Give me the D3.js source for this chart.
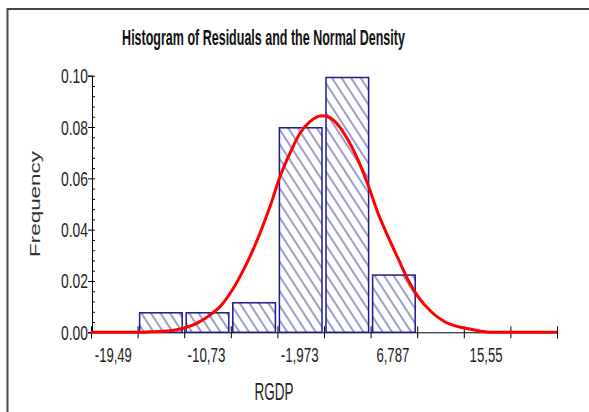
<!DOCTYPE html>
<html>
<head>
<meta charset="utf-8">
<script src="https://cdn.jsdelivr.net/npm/d3@7"></script>
<style>
  body { margin: 0; background: #fff; }
  svg { display: block; }
  text { font-family: "Liberation Sans", Arial, sans-serif; }
</style>
</head>
<body>
<svg id="chart" width="589" height="412"></svg>
<script>
// histogram bins (bin edges in RGDP residual units) and frequencies
var binStart = [-17.30, -12.92, -8.54, -4.16, 0.22, 4.60];
var binEnd   = [-12.92, -8.54, -4.16, 0.22, 4.60, 8.98];
var freq     = [0.0076, 0.0076, 0.0115, 0.0797, 0.0993, 0.0223];

// x axis: tick marks at bin edges, labels at every other bin centre
var xTicks  = [-21.68, -17.30, -12.92, -8.54, -4.16, 0.22, 4.60, 8.98, 13.36, 17.74, 22.12];
var xLabelValues = [-19.49, -10.73, -1.973, 6.787, 15.55];
var xLabels = ["-19,49", "-10,73", "-1,973", "6,787", "15,55"];
var xLabelWidths = [37, 38, 38, 33, 33];

// y axis ticks
var yTicks = [0, 0.02, 0.04, 0.06, 0.08, 0.10];
var yMinor = [0.004, 0.008, 0.012, 0.016, 0.024, 0.028, 0.032, 0.036, 0.044, 0.048, 0.052, 0.056,
              0.064, 0.068, 0.072, 0.076, 0.084, 0.088, 0.092, 0.096];

// normal density curve
var curveX = [-21.68, -16.8, -16.13, -14.25, -13.0, -11.75, -10.5, -9.55, -8.6, -7.68, -6.74, -5.8, -4.86,
              -3.92, -2.98, -2.04, -1.1, 0.0, 0.6, 1.54, 2.48, 3.42, 4.36, 5.3, 6.24, 7.18, 8.12,
              9.06, 10.3, 11.57, 12.81, 14.07, 15.32, 16.2, 22.12];
var curveY = [0, 0, 0.0002, 0.0006, 0.0016, 0.0035, 0.0067, 0.0100, 0.0152, 0.0217, 0.0295, 0.0386, 0.0489,
              0.0606, 0.0698, 0.0776, 0.0821, 0.0844, 0.0840, 0.0808, 0.0749, 0.0672, 0.0574, 0.0464, 0.0373, 0.0288, 0.0204,
              0.0139, 0.0080, 0.0041, 0.0022, 0.0012, 0.0002, 0, 0];

var svg = d3.select("#chart");

//squeeze a text horizontally so it fills the given width (the original is a stretched screenshot)
function fitText(t, px, py, w, rot) {
  var natural = t.node().getComputedTextLength();
  var sx = w / natural;
  t.attr("x", 0).attr("y", 0)
   .attr("transform", "translate(" + px + "," + py + ")" + (rot ? " rotate(" + rot + ")" : "") + " scale(" + sx + ",1)");
}

// frame (top and left edges of the original window)
svg.append("path")
    .attr("d", "M7.5,412V9H589")
    .attr("fill", "none")
    .attr("stroke", "#444")
    .attr("stroke-width", 2);

var x = d3.scaleLinear()
    .domain([-21.68, 22.12])
    .range([91, 557]);

var y = d3.scaleLinear()
    .domain([0, 0.10])
    .range([332.3, 75.7]);

// hatch pattern for the bars
var defs = svg.append("defs");
var pat = defs.append("pattern")
    .attr("id", "hatch")
    .attr("patternUnits", "userSpaceOnUse")
    .attr("width", 8)
    .attr("height", 8)
    .attr("patternTransform", "rotate(-33)");
pat.append("rect").attr("width", 8).attr("height", 8).attr("fill", "#fff");
pat.append("line")
    .attr("x1", 4).attr("y1", 0).attr("x2", 4).attr("y2", 8)
    .attr("stroke", "#3c3ca0")
    .attr("stroke-width", 1);

// title
var title = svg.append("text")
    .attr("text-anchor", "middle")
    .attr("font-size", 21.5)
    .attr("font-weight", "bold")
    .attr("fill", "#111")
    .text("Histogram of Residuals and the Normal Density");
fitText(title, 263.5, 45, 283);

// x axis line and tick marks (ticks cross the axis)
var xAxisG = svg.append("g").attr("transform", "translate(0," + y(0) + ")");
xAxisG.call(d3.axisBottom(x).tickValues(xTicks).tickSize(6).tickFormat(""));
xAxisG.append("g").call(d3.axisTop(x).tickValues(xTicks).tickSize(6).tickFormat(""))
    .select(".domain").remove();
xAxisG.selectAll("path, line").attr("stroke", "#000").attr("stroke-width", 1);

svg.selectAll(".xlab")
    .data(xLabels)
    .enter().append("text")
    .attr("class", "xlab")
    .attr("text-anchor", "middle")
    .attr("font-size", 21)
    .attr("fill", "#222")
    .text(function(d) { return d; })
    .each(function(d, i) {
      fitText(d3.select(this), x(xLabelValues[i]) - 1, 361.5, xLabelWidths[i]);
    });

// y axis
var yAxisG = svg.append("g").attr("transform", "translate(92,0)");
yAxisG.call(d3.axisLeft(y).tickValues(yTicks).tickSize(4).tickFormat(""));
yAxisG.append("g").call(d3.axisRight(y).tickValues(yTicks.concat(yMinor)).tickSize(3).tickFormat(""))
    .select(".domain").remove();
yAxisG.selectAll("path, line").attr("stroke", "#000").attr("stroke-width", 1);

svg.selectAll(".ylab")
    .data(yTicks)
    .enter().append("text")
    .attr("class", "ylab")
    .attr("text-anchor", "end")
    .attr("font-size", 19.5)
    .attr("fill", "#222")
    .text(d3.format(".2f"))
    .each(function(d) {
      fitText(d3.select(this), 88, y(d) + 7.5, 27);
    });

// bars
svg.selectAll(".bar")
    .data(freq)
    .enter().append("rect")
    .attr("class", "bar")
    .attr("x", function(d, i) { return x(binStart[i]) + 2; })
    .attr("width", function(d, i) { return x(binEnd[i]) - x(binStart[i]) - 4; })
    .attr("y", function(d) { return y(d); })
    .attr("height", function(d) { return y(0) - y(d); })
    .attr("fill", "url(#hatch)")
    .attr("stroke", "#1c1c8c")
    .attr("stroke-width", 1.5);

// normal density
var line = d3.line()
    .x(function(d, i) { return x(curveX[i]); })
    .y(function(d) { return y(d); })
    .curve(d3.curveMonotoneX);

svg.append("path")
    .datum(curveY)
    .attr("d", line)
    .attr("fill", "none")
    .attr("stroke", "#ff0000")
    .attr("stroke-width", 3);

// axis titles
var xTitle = svg.append("text")
    .attr("text-anchor", "middle")
    .attr("font-size", 23)
    .attr("fill", "#222")
    .text("RGDP");
fitText(xTitle, 274, 400, 39);

var yTitle = svg.append("text")
    .attr("text-anchor", "middle")
    .attr("font-size", 14)
    .attr("fill", "#333")
    .text("Frequency");
fitText(yTitle, 39.5, 204, 106, -90);
</script>
</body>
</html>
